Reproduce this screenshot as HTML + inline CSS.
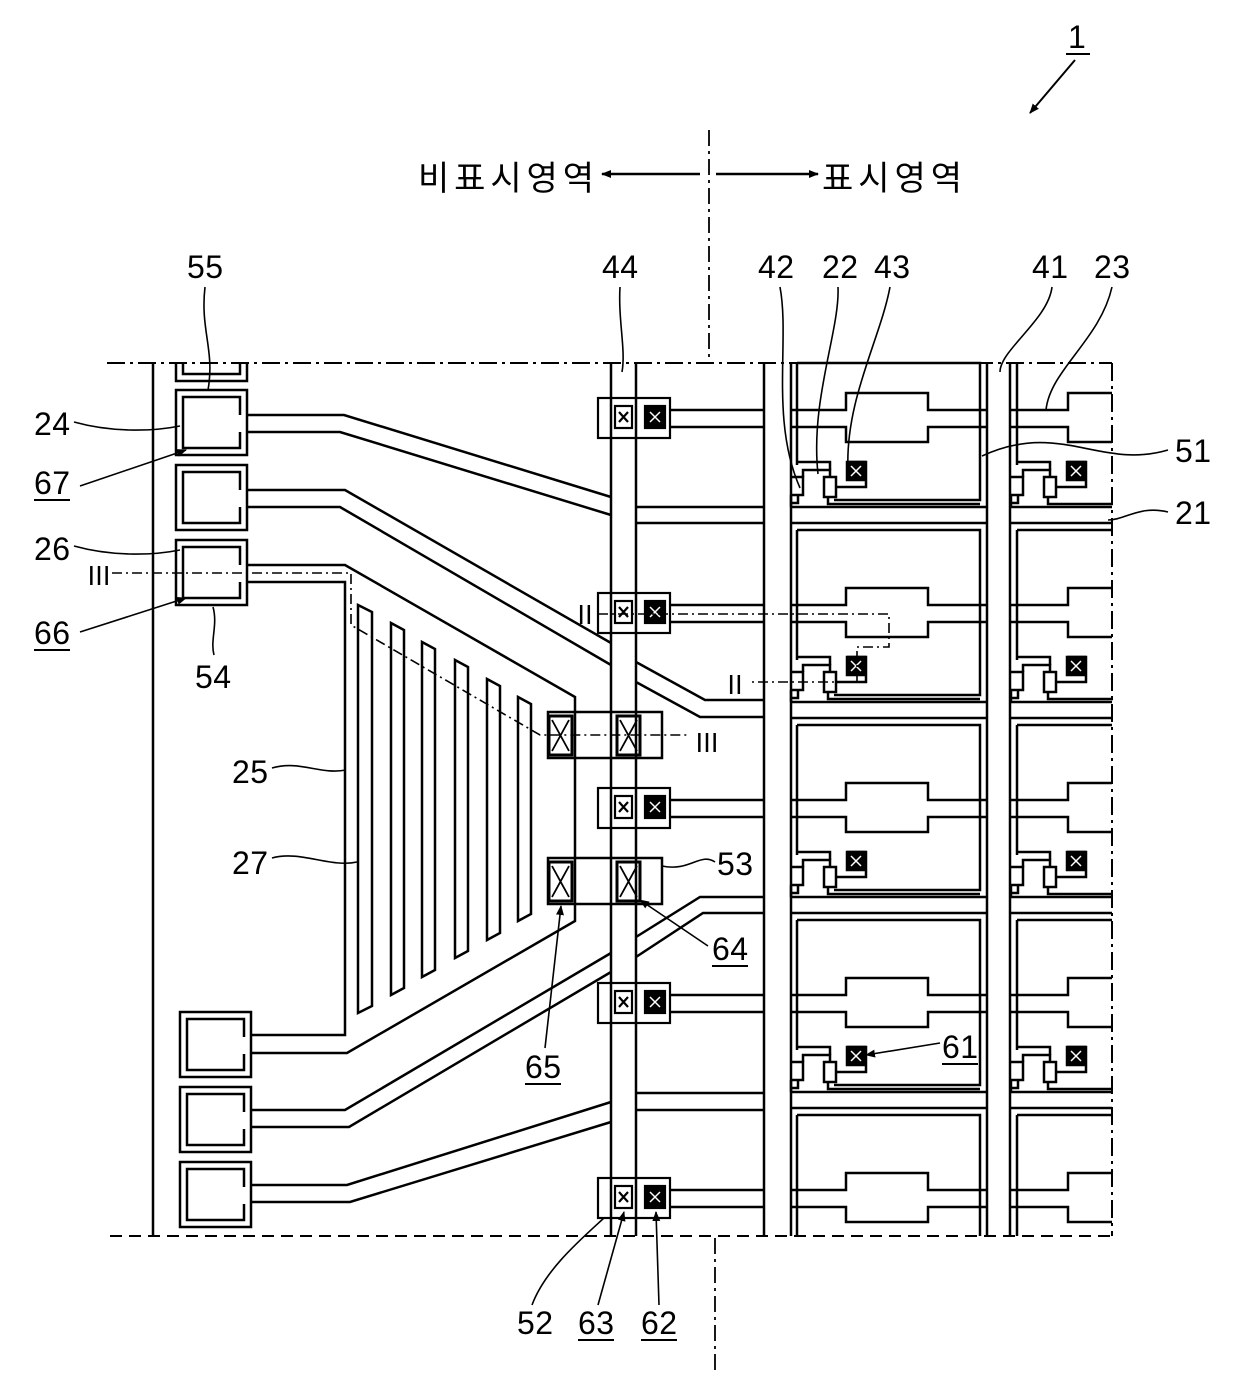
<!DOCTYPE html>
<html><head><meta charset="utf-8"><style>
html,body{margin:0;padding:0;background:#fff}
svg{display:block}
text{font-family:"Liberation Sans","Noto Sans CJK KR",sans-serif;fill:#000}
.n{font-size:32px}
</style></head><body>
<svg width="1240" height="1375" viewBox="0 0 1240 1375" xmlns="http://www.w3.org/2000/svg">
<defs>
<marker id="ah" markerWidth="10" markerHeight="8" refX="9" refY="4" orient="auto" markerUnits="userSpaceOnUse"><path d="M0,0 L10,4 L0,8 z" fill="#000"/></marker>
<g id="pad" fill="none" stroke="#000" stroke-width="2.5">
 <rect x="0" y="0" width="71" height="65"/>
 <path d="M64,25 V7 H7 V58 H64 V42"/>
</g>
<g id="cbox" stroke="#000" stroke-width="2.2">
 <rect x="598" y="-12" width="72" height="40" fill="none"/>
 <rect x="615" y="-4" width="17" height="22" fill="#fff"/>
 <path d="M619,2 l9,10 M628,2 l-9,10" />
 <rect x="645" y="-4" width="20" height="22" fill="#000"/>
 <path d="M650,2 l10,10 M660,2 l-10,10" stroke="#fff" stroke-width="1.5"/>
</g>
<g id="stor" fill="none" stroke="#000" stroke-width="2.5">
 <path d="M670,0 H764 M670,17 H764"/>
 <path d="M791,0 H846 V-17 H928 V0 H987"/>
 <path d="M791,17 H846 V32 H928 V17 H987"/>
 <path d="M1010,0 H1068 V-17 H1112"/>
 <path d="M1010,17 H1068 V32 H1112"/>
</g>
<g id="gate" fill="none" stroke="#000" stroke-width="2.5">
 <path d="M791,0 H987 M791,16 H987 M1010,0 H1112 M1010,16 H1112"/>
</g>
<g id="tft" fill="none" stroke="#000" stroke-width="2.5">
 <path d="M791,-30 H803 V-12 H791"/>
 <path d="M791,-12 V0"/>
 <path d="M798,-12 V-4 H791"/>
 <path d="M803,-30 V-37 H830 V-30"/>
 <rect x="824" y="-30" width="12" height="20"/>
 <path d="M828,-10 V-3 H980"/>
 <path d="M836,-20 H866 V-45 H847"/>
 <path d="M830,-37 V-45 H797"/>
 <rect x="847" y="-45" width="18" height="18" fill="#000"/>
 <path d="M851,-41 l10,10 M861,-41 l-10,10" stroke="#fff" stroke-width="1.5"/>
</g>
</defs>

<!-- title -->
<text class="n" x="1068" y="48" textLength="18">1</text>
<path d="M1066,54 H1090" stroke="#000" stroke-width="2"/>
<path d="M1075,60 L1030,113" stroke="#000" stroke-width="2" marker-end="url(#ah)"/>

<text x="418" y="190" font-size="34" textLength="176">비표시영역</text>
<text x="822" y="190" font-size="34" textLength="140">표시영역</text>
<path d="M700,174 H602" stroke="#000" stroke-width="2.5" marker-end="url(#ah)"/>
<path d="M716,174 H818" stroke="#000" stroke-width="2.5" marker-end="url(#ah)"/>
<path d="M709,130 V362" stroke="#000" stroke-width="1.8" stroke-dasharray="16,5,3,5"/>
<path d="M715,1238 V1375" stroke="#000" stroke-width="1.8" stroke-dasharray="16,5,3,5"/>

<!-- borders -->
<path d="M107,363 H1112" stroke="#000" stroke-width="2" stroke-dasharray="18,5,3,5"/>
<path d="M110,1236 H1120" stroke="#000" stroke-width="2" stroke-dasharray="12,7"/>
<path d="M1112,363 V1236" stroke="#000" stroke-width="2" stroke-dasharray="18,5,3,5"/>
<path d="M153,363 V1236" stroke="#000" stroke-width="2.5"/>

<g fill="none" stroke="#000" stroke-width="2.5">
<!-- strips -->
<path d="M611,363 V1236 M636,363 V1236"/>
<path d="M764,363 V1236 M791,363 V1236"/>
<path d="M987,363 V1236 M1010,363 V1236"/>
<!-- top partial pad -->
<path d="M176,363 V381 H247 V363 M183,363 V374 H240 V363"/>
<!-- fan-out lines -->
<path d="M247,415 H344 L611,497 M247,432 H340 L611,515"/>
<path d="M636,507 H764 M636,523 H764"/>
<path d="M247,490 H345 L611,643 M247,507 H340 L611,665"/>
<path d="M636,662 L705,700 H764 M636,682 L700,717 H764"/>
<!-- trapezoid 25 -->
<path d="M247,565 H345 L575,697 V921 L347,1053 H252"/>
<path d="M247,582 H345 V1035 H252"/>
<!-- bottom pad lines -->
<path d="M252,1110 H345 L611,953 M252,1127 H349 L611,972"/>
<path d="M636,937 L700,897 H764 M636,957 L703,913 H764"/>
<path d="M252,1185 H347 L611,1102 M252,1202 H350 L611,1122"/>
<path d="M636,1093 H764 M636,1110 H764"/>
<!-- fingers 27 -->
<path d="M358,605 L372,612 V1006 L358,1013 Z"/>
<path d="M391,623 L404,630 V988 L391,995 Z"/>
<path d="M422,642 L435,649 V970 L422,977 Z"/>
<path d="M455,660 L468,667 V951 L455,958 Z"/>
<path d="M487,679 L500,686 V933 L487,940 Z"/>
<path d="M518,697 L531,704 V914 L518,921 Z"/>
<!-- contact 53 boxes -->
<rect x="548" y="712" width="114" height="46"/>
<rect x="548" y="858" width="114" height="46"/>
<rect x="549" y="716" width="23" height="39" stroke-width="3"/>
<path d="M552,720 L569,751 M569,720 L552,751" stroke-width="1.8"/>
<rect x="617" y="716" width="23" height="39" stroke-width="3"/>
<path d="M620,720 L637,751 M637,720 L620,751" stroke-width="1.8"/>
<rect x="549" y="862" width="23" height="39" stroke-width="3"/>
<path d="M552,866 L569,897 M569,866 L552,897" stroke-width="1.8"/>
<rect x="617" y="862" width="23" height="39" stroke-width="3"/>
<path d="M620,866 L637,897 M637,866 L620,897" stroke-width="1.8"/>
<!-- pixel boxes main column -->
<path d="M797,363 V465 M797,363 H980 V500 H834"/>
<path d="M797,530 H980 V695 H834 M797,530 V660"/>
<path d="M797,725 H980 V890 H834 M797,725 V855"/>
<path d="M797,920 H980 V1085 H834 M797,920 V1050"/>
<path d="M797,1115 H980 V1236 M797,1115 V1236"/>
<!-- right column boxes -->
<path d="M1017,363 V465 M1017,530 H1112 M1017,530 V660 M1017,725 H1112 M1017,725 V855 M1017,920 H1112 M1017,920 V1050 M1017,1115 H1112 M1017,1115 V1236"/>
</g>

<use href="#pad" x="176" y="390"/>
<use href="#pad" x="176" y="465"/>
<use href="#pad" x="176" y="540"/>
<use href="#pad" x="180" y="1012"/>
<use href="#pad" x="180" y="1087"/>
<use href="#pad" x="180" y="1162"/>

<use href="#stor" y="410"/><use href="#stor" y="605"/><use href="#stor" y="800"/><use href="#stor" y="995"/><use href="#stor" y="1190"/>
<use href="#cbox" y="410"/><use href="#cbox" y="605"/><use href="#cbox" y="800"/><use href="#cbox" y="995"/><use href="#cbox" y="1190"/>
<use href="#gate" y="507"/><use href="#gate" y="702"/><use href="#gate" y="897"/><use href="#gate" y="1092"/>
<use href="#tft" y="507"/><use href="#tft" y="702"/><use href="#tft" y="897"/><use href="#tft" y="1092"/>
<g clip-path="none"><use href="#tft" x="220" y="507"/><use href="#tft" x="220" y="702"/><use href="#tft" x="220" y="897"/><use href="#tft" x="220" y="1092"/></g>
<rect x="1113" y="360" width="130" height="880" fill="#fff"/>
<path d="M1112,363 V1236" stroke="#000" stroke-width="2" stroke-dasharray="18,5,3,5"/>

<!-- section lines -->
<g fill="none" stroke="#000" stroke-width="1.6" stroke-dasharray="10,4,2,4">
<path d="M112,573 H351 V625 L540,735 H690"/>
<path d="M598,614 H889 V647 H857 V682 H750"/>
</g>
<text x="86" y="585" font-size="26" font-family="Liberation Serif">Ⅲ</text>
<text x="694" y="752" font-size="26" font-family="Liberation Serif">Ⅲ</text>
<text x="572" y="624" font-size="26" font-family="Liberation Serif">Ⅱ</text>
<text x="722" y="694" font-size="26" font-family="Liberation Serif">Ⅱ</text>

<!-- labels -->
<g class="n">
<text x="187" y="278" textLength="36">55</text>
<text x="602" y="278" textLength="36">44</text>
<text x="758" y="278" textLength="36">42</text>
<text x="822" y="278" textLength="36">22</text>
<text x="874" y="278" textLength="36">43</text>
<text x="1032" y="278" textLength="36">41</text>
<text x="1094" y="278" textLength="36">23</text>
<text x="34" y="435" textLength="36">24</text>
<text x="34" y="494" textLength="36">67</text>
<text x="34" y="560" textLength="36">26</text>
<text x="34" y="644" textLength="36">66</text>
<text x="195" y="688" textLength="36">54</text>
<text x="232" y="783" textLength="36">25</text>
<text x="232" y="874" textLength="36">27</text>
<text x="1175" y="462" textLength="36">51</text>
<text x="1175" y="524" textLength="36">21</text>
<text x="717" y="875" textLength="36">53</text>
<text x="712" y="960" textLength="36">64</text>
<text x="525" y="1078" textLength="36">65</text>
<text x="942" y="1058" textLength="36">61</text>
<text x="517" y="1334" textLength="36">52</text>
<text x="578" y="1334" textLength="36">63</text>
<text x="641" y="1334" textLength="36">62</text>
</g>
<g stroke="#000" stroke-width="2">
<path d="M34,500 H70 M34,650 H70 M712,966 H748 M525,1084 H561 M942,1064 H978 M578,1340 H614 M641,1340 H677"/>
</g>
<g fill="none" stroke="#000" stroke-width="1.6">
<path d="M205,287 C200,330 215,350 208,390"/>
<path d="M74,422 C110,432 150,432 180,426"/>
<path d="M80,486 L186,450" marker-end="url(#ah)"/>
<path d="M74,546 C110,556 150,556 180,550"/>
<path d="M80,632 L186,598" marker-end="url(#ah)"/>
<path d="M214,655 C210,640 218,625 213,607"/>
<path d="M272,768 C300,760 320,775 346,770"/>
<path d="M272,858 C300,850 330,868 357,862"/>
<path d="M620,287 C618,320 626,350 622,372"/>
<path d="M780,287 C790,340 770,420 800,488"/>
<path d="M838,287 C840,330 810,400 818,474"/>
<path d="M890,287 C880,340 845,400 848,470"/>
<path d="M1052,287 C1048,320 1000,350 1000,372"/>
<path d="M1112,287 C1100,340 1050,370 1046,410"/>
<path d="M1168,450 C1100,470 1060,420 982,456"/>
<path d="M1168,512 C1140,505 1125,520 1108,520"/>
<path d="M715,862 C700,852 690,872 662,866"/>
<path d="M708,946 L640,900" marker-end="url(#ah)"/>
<path d="M545,1048 L561,906" marker-end="url(#ah)"/>
<path d="M940,1043 L866,1055" marker-end="url(#ah)"/>
<path d="M532,1305 C545,1270 580,1240 604,1218"/>
<path d="M598,1305 L624,1212" marker-end="url(#ah)"/>
<path d="M659,1305 L656,1212" marker-end="url(#ah)"/>
</g>
</svg>
</body></html>
